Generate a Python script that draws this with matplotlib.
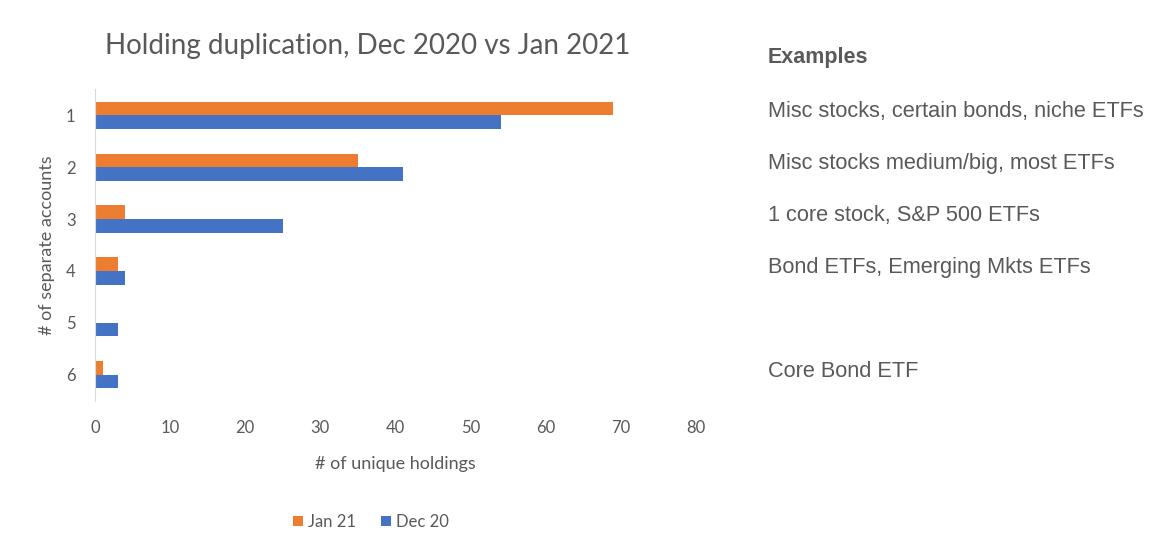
import numpy as np
import matplotlib
matplotlib.use('Agg')
import matplotlib.pyplot as plt

# data
accounts = ['1', '2', '3', '4', '5', '6']
jan21 = [69, 35, 4, 3, 0, 1]
dec20 = [54, 41, 25, 4, 3, 3]
examples = ['Misc stocks, certain bonds, niche ETFs',
            'Misc stocks medium/big, most ETFs',
            '1 core stock, S&P 500 ETFs',
            'Bond ETFs, Emerging Mkts ETFs',
            '',
            'Core Bond ETF']

orange = '#ED7D31'
blue = '#4472C4'
grey = '#595959'

plt.rcParams['font.family'] = ['Lato', 'DejaVu Sans']

fig = plt.figure(figsize=(11.76, 5.6), dpi=100)
ax = fig.add_axes([0.0808, 0.284, 0.511, 0.557])

y = np.arange(len(accounts))
h = 0.26
ax.barh(y - h/2, jan21, height=h, color=orange, label='Jan 21')
ax.barh(y + h/2, dec20, height=h, color=blue, label='Dec 20')

ax.set_xlim(0, 80)
ax.set_ylim(len(accounts) - 0.5, -0.5)
ax.set_yticks(y)
ax.set_yticklabels(accounts)
ax.set_xticks(range(0, 81, 10))
ax.tick_params(length=0, colors=grey, labelsize=12)
ax.tick_params(axis='x', pad=14)
ax.tick_params(axis='y', pad=14)
for s in ['top', 'right', 'bottom']:
    ax.spines[s].set_visible(False)
ax.spines['left'].set_color('#d9d9d9')

ax.set_xlabel('# of unique holdings', color=grey, fontsize=13, labelpad=14)
ax.set_ylabel('# of separate accounts', color=grey, fontsize=13, labelpad=8)
fig.text(0.313, 0.918, 'Holding duplication, Dec 2020 vs Jan 2021',
         color=grey, fontsize=20, ha='center', va='center')

leg = fig.legend(loc='center', bbox_to_anchor=(0.315, 0.068), ncol=2,
                 frameon=False, fontsize=12, handlelength=0.6, handleheight=0.6,
                 handletextpad=0.3, columnspacing=1.5)
for t in leg.get_texts():
    t.set_color(grey)

# examples column on the right
fig.text(0.653, 0.898, 'Examples', family='Liberation Sans', fontweight='bold',
         color=grey, fontsize=15.5, va='center')
for i, txt in enumerate(examples):
    if txt:
        yy = ax.transData.transform((0, i))[1] / fig.bbox.height
        fig.text(0.653, yy + 0.007, txt, family='Liberation Sans', color=grey,
                 fontsize=15.7, va='center')

fig.savefig('out.png', dpi=100)
